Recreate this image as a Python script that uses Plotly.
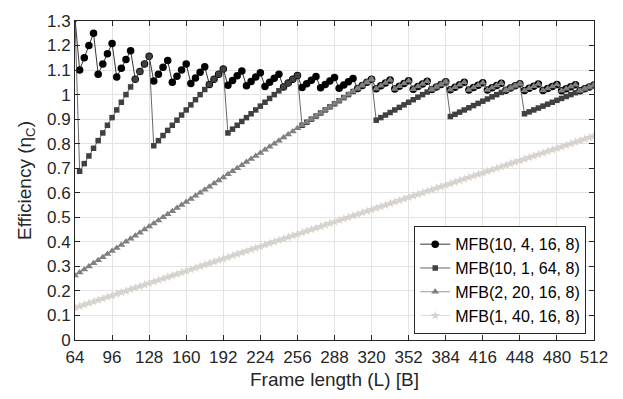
import plotly.graph_objects as go

# Frame length L [B]
frame_len = list(range(64, 513, 4))

eff_10_4_16_8 = [
    1.3125,
    1.1000, 1.1500, 1.2000, 1.2500,
    1.0833, 1.1250, 1.1667, 1.2083,
    1.0714, 1.1071, 1.1429, 1.1786,
    1.0625, 1.0938, 1.1250, 1.1563,
    1.0556, 1.0833, 1.1111, 1.1389,
    1.0500, 1.0750, 1.1000, 1.1250,
    1.0455, 1.0682, 1.0909, 1.1136,
    1.0417, 1.0625, 1.0833, 1.1042,
    1.0385, 1.0577, 1.0769, 1.0962,
    1.0357, 1.0536, 1.0714, 1.0893,
    1.0333, 1.0500, 1.0667, 1.0833,
    1.0313, 1.0469, 1.0625, 1.0781,
    1.0294, 1.0441, 1.0588, 1.0735,
    1.0278, 1.0417, 1.0556, 1.0694,
    1.0263, 1.0395, 1.0526, 1.0658,
    1.0250, 1.0375, 1.0500, 1.0625,
    1.0238, 1.0357, 1.0476, 1.0595,
    1.0227, 1.0341, 1.0455, 1.0568,
    1.0217, 1.0326, 1.0435, 1.0543,
    1.0208, 1.0313, 1.0417, 1.0521,
    1.0200, 1.0300, 1.0400, 1.0500,
    1.0192, 1.0288, 1.0385, 1.0481,
    1.0185, 1.0278, 1.0370, 1.0463,
    1.0179, 1.0268, 1.0357, 1.0446,
    1.0172, 1.0259, 1.0345, 1.0431,
    1.0167, 1.0250, 1.0333, 1.0417,
    1.0161, 1.0242, 1.0323, 1.0403,
    1.0156, 1.0234, 1.0313, 1.0391,
]

eff_10_1_64_8 = [
    1.3125,
    0.6875, 0.7188, 0.7500, 0.7813, 0.8125, 0.8438, 0.8750, 0.9063,
    0.9375, 0.9688, 1.0000, 1.0313, 1.0625, 1.0938, 1.1250, 1.1563,
    0.7917, 0.8125, 0.8333, 0.8542, 0.8750, 0.8958, 0.9167, 0.9375,
    0.9583, 0.9792, 1.0000, 1.0208, 1.0417, 1.0625, 1.0833, 1.1042,
    0.8438, 0.8594, 0.8750, 0.8906, 0.9063, 0.9219, 0.9375, 0.9531,
    0.9688, 0.9844, 1.0000, 1.0156, 1.0313, 1.0469, 1.0625, 1.0781,
    0.8750, 0.8875, 0.9000, 0.9125, 0.9250, 0.9375, 0.9500, 0.9625,
    0.9750, 0.9875, 1.0000, 1.0125, 1.0250, 1.0375, 1.0500, 1.0625,
    0.8958, 0.9063, 0.9167, 0.9271, 0.9375, 0.9479, 0.9583, 0.9688,
    0.9792, 0.9896, 1.0000, 1.0104, 1.0208, 1.0313, 1.0417, 1.0521,
    0.9107, 0.9196, 0.9286, 0.9375, 0.9464, 0.9554, 0.9643, 0.9732,
    0.9821, 0.9911, 1.0000, 1.0089, 1.0179, 1.0268, 1.0357, 1.0446,
    0.9219, 0.9297, 0.9375, 0.9453, 0.9531, 0.9609, 0.9688, 0.9766,
    0.9844, 0.9922, 1.0000, 1.0078, 1.0156, 1.0234, 1.0313, 1.0391,
]

eff_2_20_16_8 = [
    0.2625, 0.2750, 0.2875, 0.3000, 0.3125, 0.3250, 0.3375, 0.3500,
    0.3625, 0.3750, 0.3875, 0.4000, 0.4125, 0.4250, 0.4375, 0.4500,
    0.4625, 0.4750, 0.4875, 0.5000, 0.5125, 0.5250, 0.5375, 0.5500,
    0.5625, 0.5750, 0.5875, 0.6000, 0.6125, 0.6250, 0.6375, 0.6500,
    0.6625, 0.6750, 0.6875, 0.7000, 0.7125, 0.7250, 0.7375, 0.7500,
    0.7625, 0.7750, 0.7875, 0.8000, 0.8125, 0.8250, 0.8375, 0.8500,
    0.8625, 0.8750, 0.8875, 0.9000, 0.9125, 0.9250, 0.9375, 0.9500,
    0.9625, 0.9750, 0.9875, 1.0000, 1.0125, 1.0250, 1.0375, 1.0500,
    1.0625,
    1.0238, 1.0357, 1.0476, 1.0595,
    1.0227, 1.0341, 1.0455, 1.0568,
    1.0217, 1.0326, 1.0435, 1.0543,
    1.0208, 1.0313, 1.0417, 1.0521,
    1.0200, 1.0300, 1.0400, 1.0500,
    1.0192, 1.0288, 1.0385, 1.0481,
    1.0185, 1.0278, 1.0370, 1.0463,
    1.0179, 1.0268, 1.0357, 1.0446,
    1.0172, 1.0259, 1.0345, 1.0431,
    1.0167, 1.0250, 1.0333, 1.0417,
    1.0161, 1.0242, 1.0323, 1.0403,
    1.0156, 1.0234, 1.0313, 1.0391,
]

eff_1_40_16_8 = [
    0.1313, 0.1375, 0.1438, 0.1500, 0.1563, 0.1625, 0.1688, 0.1750,
    0.1813, 0.1875, 0.1938, 0.2000, 0.2063, 0.2125, 0.2188, 0.2250,
    0.2313, 0.2375, 0.2438, 0.2500, 0.2563, 0.2625, 0.2688, 0.2750,
    0.2813, 0.2875, 0.2938, 0.3000, 0.3063, 0.3125, 0.3188, 0.3250,
    0.3313, 0.3375, 0.3438, 0.3500, 0.3563, 0.3625, 0.3688, 0.3750,
    0.3813, 0.3875, 0.3938, 0.4000, 0.4063, 0.4125, 0.4188, 0.4250,
    0.4313, 0.4375, 0.4438, 0.4500, 0.4563, 0.4625, 0.4688, 0.4750,
    0.4813, 0.4875, 0.4938, 0.5000, 0.5063, 0.5125, 0.5188, 0.5250,
    0.5313, 0.5375, 0.5438, 0.5500, 0.5563, 0.5625, 0.5688, 0.5750,
    0.5813, 0.5875, 0.5938, 0.6000, 0.6063, 0.6125, 0.6188, 0.6250,
    0.6313, 0.6375, 0.6438, 0.6500, 0.6563, 0.6625, 0.6688, 0.6750,
    0.6813, 0.6875, 0.6938, 0.7000, 0.7063, 0.7125, 0.7188, 0.7250,
    0.7313, 0.7375, 0.7438, 0.7500, 0.7563, 0.7625, 0.7688, 0.7750,
    0.7813, 0.7875, 0.7938, 0.8000, 0.8063, 0.8125, 0.8188, 0.8250,
    0.8313,
]

series_names = ["MFB(10, 4, 16, 8)", "MFB(10, 1, 64, 8)",
                "MFB(2, 20, 16, 8)", "MFB(1, 40, 16, 8)"]
series_vals = [eff_10_4_16_8, eff_10_1_64_8, eff_2_20_16_8, eff_1_40_16_8]
series_colors = ["#000000", "#404040", "#808080", "#d6d1cb"]
series_symbols = ["circle", "square", "triangle-up", "star"]
series_sizes = [7.5, 5.5, 7, 7]

x_ticks = list(range(64, 513, 32))
y_ticks = [round(0.1 * i, 1) for i in range(14)]

FONT = "Liberation Sans, Arial, Helvetica, sans-serif"
AX = "#262626"

fig = go.Figure()
for name, vals, col, sym, sz in zip(series_names, series_vals, series_colors,
                                    series_symbols, series_sizes):
    fig.add_trace(go.Scatter(
        x=frame_len, y=vals, name=name, mode="lines+markers",
        line=dict(color=col, width=0.8),
        marker=dict(symbol=sym, size=sz, color=col, line=dict(width=0)),
    ))

fig.update_layout(
    width=623, height=399,
    margin=dict(l=75, r=29, t=12, b=58),
    paper_bgcolor="white", plot_bgcolor="white",
    font=dict(family=FONT, size=17, color=AX),
    showlegend=True,
    legend=dict(
        x=0.985, y=0.018, xanchor="right", yanchor="bottom",
        bgcolor="white", bordercolor="#262626", borderwidth=1,
        font=dict(family=FONT, size=16, color="#000000"),
        itemwidth=30, tracegroupgap=0,
    ),
)
fig.update_xaxes(
    range=[64, 512], tickvals=x_ticks, ticktext=[str(v) for v in x_ticks],
    showgrid=True, gridcolor="#e3e3e3", gridwidth=1,
    showline=True, linecolor=AX, linewidth=1, mirror="ticks",
    ticks="inside", ticklen=5, tickcolor=AX, ticklabelstandoff=2,
    tickfont=dict(family=FONT, size=17, color=AX), zeroline=False,
    title=dict(text="Frame length (L) [B]", font=dict(family=FONT, size=19, color=AX), standoff=6),
)
fig.update_yaxes(
    range=[0, 1.3], tickvals=y_ticks,
    ticktext=[("%g" % v) for v in y_ticks],
    showgrid=True, gridcolor="#e3e3e3", gridwidth=1,
    showline=True, linecolor=AX, linewidth=1, mirror="ticks",
    ticks="inside", ticklen=5, tickcolor=AX,
    tickfont=dict(family=FONT, size=17, color=AX), zeroline=False,
    title=dict(text="Efficiency (η<sub>C</sub>)", font=dict(family=FONT, size=19, color=AX), standoff=10),
)

fig.write_html("out.html")
